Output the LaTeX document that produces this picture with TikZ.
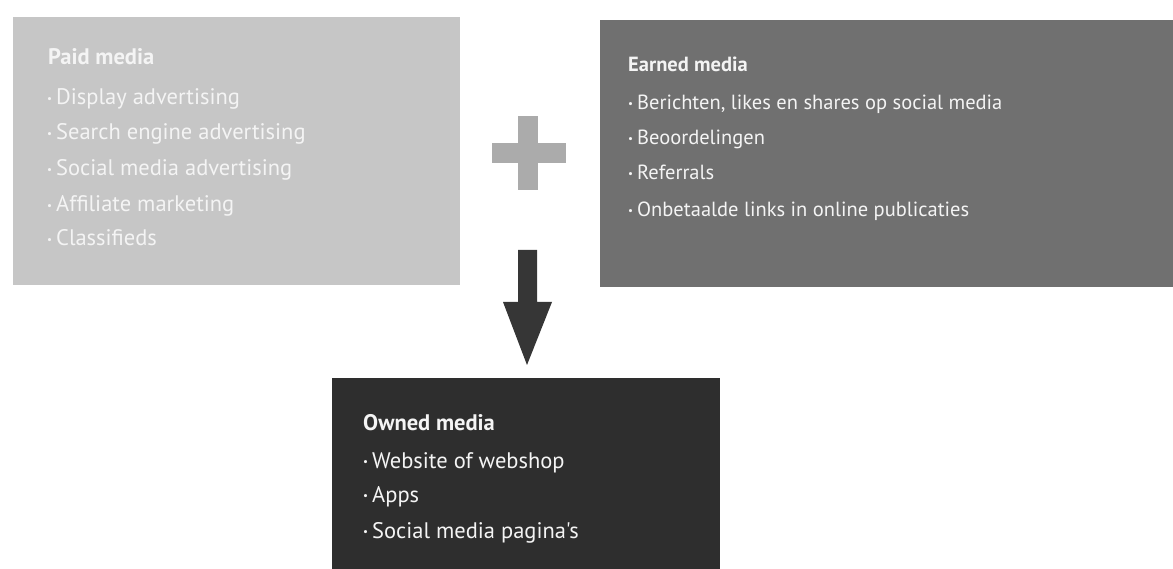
\documentclass[tikz,border=0pt]{standalone}
\usepackage{fontspec}
\setmainfont{PT Sans}[Ligatures=TeXOff]
\usetikzlibrary{positioning}
\definecolor{paidc}{HTML}{C6C6C6}
\definecolor{earnc}{HTML}{707070}
\definecolor{ownc}{HTML}{2E2E2E}
\definecolor{plusc}{HTML}{ABABAB}
\definecolor{arrowc}{HTML}{363636}
\definecolor{txtc}{HTML}{F4F4F4}
\newcommand{\bul}{\raisebox{2.6pt}{\fontsize{11}{11}\selectfont\textbullet}\hspace{4pt}}
\begin{document}
\begin{tikzpicture}[x=1pt,y=-1pt,
  mediabox/.style={draw=none,inner sep=0pt,anchor=north west},
  itemtxt/.style={anchor=base west,inner sep=0pt,text=txtc},
  bigtxt/.style={font=\fontsize{22.5}{24}\selectfont},
  midtxt/.style={font=\fontsize{20.5}{24}\selectfont},
  titletxt/.style={anchor=base west,inner sep=0pt,text=txtc}]
\useasboundingbox (0,0) rectangle (1173,569);
% boxes
\fill[paidc] (13,17) rectangle (460,285);
\node[mediabox,minimum width=447pt,minimum height=268pt] (paid) at (13,17) {};
\fill[earnc] (600,20) rectangle (1173,287);
\node[mediabox,minimum width=573pt,minimum height=267pt] (earned) at (600,20) {};
\fill[ownc] (332,378) rectangle (720,569);
\node[mediabox,minimum width=388pt,minimum height=191pt] (owned) at (332,378) {};
% paid text
\node[titletxt,bigtxt] (p0) at (48,65) {\bfseries Paid media};
\node[itemtxt,bigtxt] (p1) at (47,105) {\bul Display advertising};
\node[itemtxt,bigtxt] (p2) at (47,140) {\bul Search engine advertising};
\node[itemtxt,bigtxt] (p3) at (47,176) {\bul Social media advertising};
\node[itemtxt,bigtxt] (p4) at (47,212) {\bul Affiliate marketing};
\node[itemtxt,bigtxt] (p5) at (47,246) {\bul Classifieds};
% earned text
\node[titletxt,midtxt] (e0) at (628,72) {\bfseries Earned media};
\node[itemtxt,midtxt] (e1) at (628,110) {\bul Berichten, likes en shares op social media};
\node[itemtxt,midtxt] (e2) at (628,145) {\bul Beoordelingen};
\node[itemtxt,midtxt] (e3) at (628,180) {\bul Referrals};
\node[itemtxt,midtxt] (e4) at (628,217) {\bul Onbetaalde links in online publicaties};
% owned text
\node[titletxt,bigtxt] (o0) at (363,430) {\bfseries Owned media};
\node[itemtxt,bigtxt] (o1) at (363,468) {\bul Website of webshop};
\node[itemtxt,bigtxt] (o2) at (363,502) {\bul Apps};
\node[itemtxt,bigtxt] (o3) at (363,538) {\bul Social media pagina's};
% plus sign
\coordinate (plus) at (528,153);
\fill[plusc] (518,116) rectangle (538,190);
\fill[plusc] (492,143) rectangle (566,163);
% arrow
\coordinate (arrtop) at (527,250);
\coordinate (arrtip) at (527,365);
\fill[arrowc] (518,250) -- (537,250) -- (537,302) -- (552,302) -- (arrtip) -- (503,302) -- (518,302) -- cycle;
\end{tikzpicture}
\end{document}
